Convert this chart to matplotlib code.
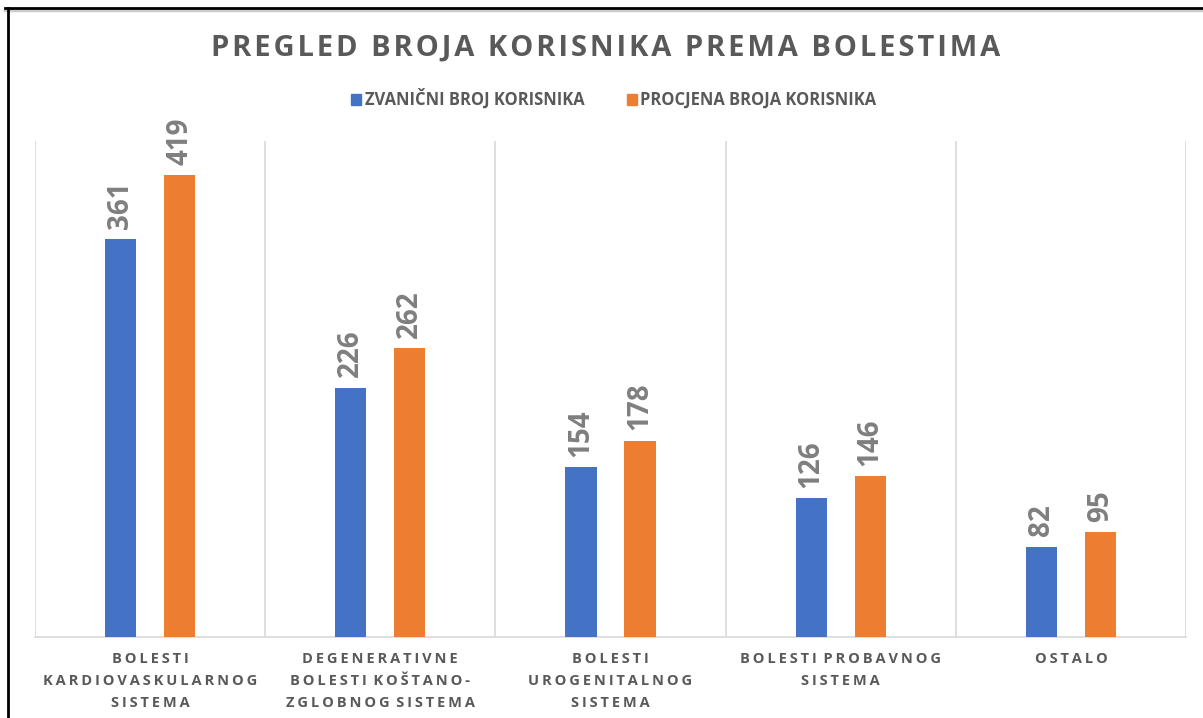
import matplotlib
matplotlib.use("Agg")
import matplotlib.pyplot as plt
from matplotlib.lines import Line2D
from matplotlib.patches import Patch
import numpy as np

plt.rcParams["font.family"] = ["Open Sans", "DejaVu Sans"]

categories = [
    "BOLESTI\nKARDIOVASKULARNOG\nSISTEMA",
    "DEGENERATIVNE\nBOLESTI KOŠTANO-\nZGLOBNOG SISTEMA",
    "BOLESTI\nUROGENITALNOG\nSISTEMA",
    "BOLESTI PROBAVNOG\nSISTEMA",
    "OSTALO",
]
official = [361, 226, 154, 126, 82]
estimate = [419, 262, 178, 146, 95]
series_names = ["ZVANIČNI BROJ KORISNIKA", "PROCJENA BROJA KORISNIKA"]
title = "PREGLED BROJA KORISNIKA PREMA BOLESTIMA"

BLUE = "#4472C4"
ORANGE = "#ED7D31"
TEXT = "#595959"
LABEL = "#7F7F7F"
GRID = "#D9D9D9"


def spaced(s, sep="\u2009", word_sep="\u2009 "):
    # fake letter spacing: thin spaces between letters
    lines = []
    for line in s.split("\n"):
        words = [sep.join(w) for w in line.split(" ")]
        lines.append(word_sep.join(words))
    return "\n".join(lines)


W, H = 1203, 718
fig = plt.figure(figsize=(W / 100, H / 100), dpi=100)
ax = fig.add_axes([35 / W, 1 - 637 / H, (1186 - 35) / W, (637 - 141) / H])

x = np.arange(len(categories))
bw = 0.135
off = 0.128
b1 = ax.bar(x - off, official, bw, color=BLUE, zorder=3)
b2 = ax.bar(x + off, estimate, bw, color=ORANGE, zorder=3)

for bars in (b1, b2):
    ax.bar_label(bars, padding=7.5, rotation=90, fontsize=20, fontweight="bold",
                 color=LABEL)

ax.set_xlim(-0.5, len(categories) - 0.5)
ax.set_ylim(0, 450)
ax.vlines(np.arange(len(categories) + 1) - 0.5, 0, 450, color=GRID, lw=1.2, zorder=1)

ax.set_xticks(x)
ax.set_xticklabels([spaced(c) for c in categories], fontsize=10.5, fontweight="bold",
                   color=TEXT, linespacing=1.7)
ax.tick_params(axis="x", length=0, pad=11)
ax.set_yticks([])
for side in ("top", "right", "left"):
    ax.spines[side].set_visible(False)
ax.spines["bottom"].set_color(GRID)
ax.spines["bottom"].set_linewidth(1.2)

fig.text(606 / W, 1 - 48 / H, spaced(title, sep="\u200a", word_sep=" \u2009"),
         ha="center", va="center", fontsize=21, fontweight="bold", color=TEXT)

handles = [Patch(color=BLUE), Patch(color=ORANGE)]
fig.legend(handles, series_names, loc="center", bbox_to_anchor=(614 / W, 1 - 99 / H),
           ncol=2, frameon=False, handlelength=0.6, handleheight=0.6,
           handletextpad=0.2, columnspacing=2.6,
           prop={"size": 11.9, "weight": "bold"}, labelcolor=TEXT)

# outer frame (top and left edge visible)
fig.add_artist(Line2D([5 / W, 1], [1 - 10 / H, 1 - 10 / H], color="#CCCCCC", lw=2.5,
                      transform=fig.transFigure))
fig.add_artist(Line2D([5 / W, 1], [1 - 8 / H, 1 - 8 / H], color="black", lw=2,
                      transform=fig.transFigure))
fig.add_artist(Line2D([8 / W, 8 / W], [0, 1 - 8 / H], color="black", lw=2,
                      transform=fig.transFigure))

fig.savefig("out.png", dpi=100)
